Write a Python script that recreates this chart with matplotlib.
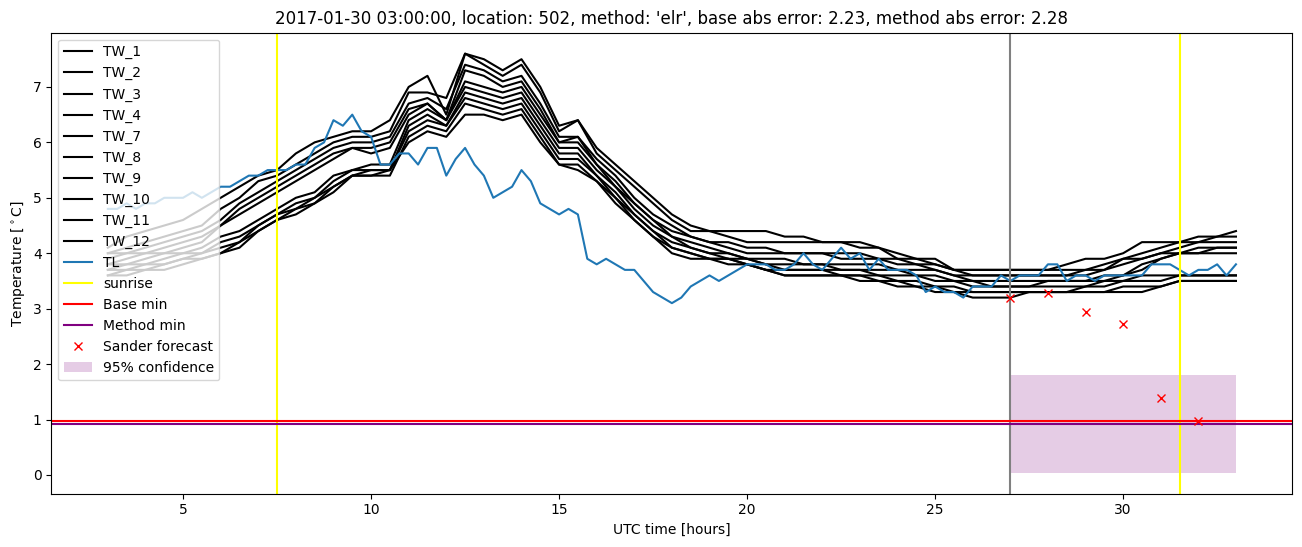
import numpy as np
import matplotlib

matplotlib.use("Agg")
import matplotlib.pyplot as plt

# half-hourly grid for the TW stations, quarter-hourly for TL
tw_hours = np.arange(3.0, 33.001, 0.5)
tl_hours = np.arange(3.0, 33.001, 0.25)

tw_labels = ["TW_1", "TW_2", "TW_3", "TW_4", "TW_7", "TW_8", "TW_9", "TW_10", "TW_11", "TW_12"]

tw_1 = [4.1, 4.3, 4.4, 4.5, 4.6, 4.8, 5.0, 5.2, 5.4, 5.5, 5.8, 6.0, 6.1, 6.2, 6.2, 6.4, 7.0, 7.2, 6.5, 7.6,
        7.5, 7.3, 7.5, 7.0, 6.3, 6.4, 5.9, 5.6, 5.3, 5.0, 4.7, 4.5, 4.4, 4.4, 4.4, 4.4, 4.3, 4.3, 4.2, 4.2,
        4.2, 4.1, 4.0, 3.9, 3.9, 3.7, 3.7, 3.7, 3.7, 3.7, 3.7, 3.8, 3.9, 3.9, 4.0, 4.2, 4.2, 4.2, 4.3, 4.3, 4.4]
tw_2 = [4.0, 4.1, 4.2, 4.3, 4.4, 4.5, 4.8, 5.0, 5.3, 5.4, 5.6, 5.8, 6.0, 6.1, 6.1, 6.2, 6.9, 6.9, 6.8, 7.6,
        7.4, 7.2, 7.4, 6.9, 6.2, 6.4, 5.8, 5.5, 5.2, 4.9, 4.6, 4.4, 4.4, 4.3, 4.2, 4.2, 4.2, 4.2, 4.2, 4.2,
        4.1, 4.1, 3.9, 3.9, 3.8, 3.7, 3.7, 3.7, 3.7, 3.7, 3.7, 3.7, 3.7, 3.8, 3.9, 4.0, 4.1, 4.2, 4.2, 4.3, 4.3]
tw_3 = [4.0, 4.0, 4.1, 4.2, 4.3, 4.4, 4.6, 4.9, 5.1, 5.3, 5.5, 5.7, 5.9, 6.0, 6.0, 6.1, 6.7, 6.8, 6.6, 7.4,
        7.3, 7.1, 7.2, 6.7, 6.1, 6.1, 5.7, 5.4, 5.0, 4.7, 4.5, 4.3, 4.2, 4.2, 4.1, 4.1, 4.0, 4.0, 4.0, 4.0,
        4.0, 3.9, 3.9, 3.8, 3.8, 3.7, 3.6, 3.6, 3.6, 3.6, 3.6, 3.6, 3.7, 3.7, 3.9, 3.9, 4.0, 4.1, 4.2, 4.2, 4.2]
tw_4 = [3.9, 4.0, 4.0, 4.1, 4.2, 4.3, 4.5, 4.8, 5.0, 5.2, 5.4, 5.6, 5.8, 5.9, 5.9, 6.0, 6.6, 6.7, 6.4, 7.3,
        7.2, 7.0, 7.1, 6.6, 6.0, 6.0, 5.6, 5.3, 4.9, 4.6, 4.4, 4.3, 4.2, 4.1, 4.0, 4.0, 4.0, 4.0, 4.0, 3.9,
        3.9, 3.9, 3.8, 3.8, 3.7, 3.6, 3.6, 3.6, 3.6, 3.6, 3.6, 3.6, 3.6, 3.7, 3.8, 3.9, 4.0, 4.0, 4.1, 4.1, 4.1]
tw_7 = [3.8, 3.9, 4.0, 4.0, 4.1, 4.2, 4.5, 4.7, 4.9, 5.1, 5.3, 5.5, 5.7, 5.9, 5.8, 5.9, 6.5, 6.7, 6.4, 7.1,
        7.0, 6.9, 7.0, 6.5, 6.0, 6.1, 5.6, 5.2, 4.9, 4.6, 4.3, 4.2, 4.1, 4.0, 3.9, 3.9, 3.9, 3.8, 3.8, 3.8,
        3.8, 3.8, 3.7, 3.7, 3.7, 3.6, 3.5, 3.5, 3.5, 3.5, 3.5, 3.5, 3.5, 3.6, 3.6, 3.8, 3.9, 4.0, 4.0, 4.1, 4.1]
tw_8 = [3.8, 3.8, 3.9, 4.0, 4.0, 4.1, 4.3, 4.4, 4.6, 4.8, 5.0, 5.1, 5.4, 5.5, 5.6, 5.6, 6.4, 6.6, 6.4, 7.0,
        6.9, 6.8, 6.9, 6.4, 5.9, 5.9, 5.5, 5.2, 4.8, 4.5, 4.3, 4.1, 4.0, 4.0, 3.9, 3.8, 3.8, 3.8, 3.8, 3.7,
        3.7, 3.7, 3.7, 3.6, 3.6, 3.5, 3.5, 3.4, 3.4, 3.4, 3.5, 3.5, 3.5, 3.5, 3.6, 3.7, 3.9, 4.0, 4.0, 4.0, 4.0]
tw_9 = [3.7, 3.8, 3.8, 3.9, 4.0, 4.0, 4.2, 4.3, 4.5, 4.7, 4.9, 5.0, 5.3, 5.5, 5.5, 5.5, 6.3, 6.5, 6.3, 6.9,
        6.8, 6.7, 6.8, 6.3, 5.8, 5.8, 5.4, 5.1, 4.7, 4.4, 4.2, 4.1, 4.0, 3.9, 3.9, 3.8, 3.7, 3.7, 3.7, 3.7,
        3.7, 3.6, 3.6, 3.6, 3.5, 3.5, 3.4, 3.4, 3.4, 3.4, 3.4, 3.4, 3.4, 3.5, 3.5, 3.6, 3.6, 3.6, 3.6, 3.6, 3.6]
tw_10 = [3.7, 3.7, 3.8, 3.8, 3.9, 4.0, 4.1, 4.2, 4.5, 4.7, 4.8, 5.0, 5.2, 5.4, 5.5, 5.5, 6.2, 6.4, 6.3, 6.8,
         6.7, 6.6, 6.7, 6.2, 5.7, 5.7, 5.4, 5.0, 4.7, 4.4, 4.1, 4.0, 3.9, 3.9, 3.8, 3.7, 3.7, 3.7, 3.7, 3.6,
         3.6, 3.6, 3.5, 3.5, 3.4, 3.4, 3.3, 3.3, 3.3, 3.3, 3.3, 3.3, 3.4, 3.4, 3.5, 3.5, 3.5, 3.6, 3.6, 3.6, 3.6]
tw_11 = [3.6, 3.7, 3.7, 3.8, 3.9, 3.9, 4.0, 4.2, 4.4, 4.6, 4.8, 4.9, 5.2, 5.4, 5.4, 5.4, 6.1, 6.3, 6.2, 6.7,
         6.6, 6.5, 6.6, 6.1, 5.6, 5.6, 5.3, 5.0, 4.6, 4.3, 4.1, 4.0, 3.9, 3.9, 3.8, 3.7, 3.6, 3.6, 3.6, 3.6,
         3.6, 3.5, 3.5, 3.4, 3.4, 3.3, 3.3, 3.3, 3.3, 3.3, 3.3, 3.3, 3.3, 3.3, 3.4, 3.4, 3.4, 3.5, 3.5, 3.5, 3.5]
tw_12 = [3.6, 3.6, 3.7, 3.7, 3.8, 3.9, 4.0, 4.1, 4.4, 4.6, 4.7, 4.9, 5.1, 5.4, 5.4, 5.5, 6.0, 6.2, 6.1, 6.5,
         6.5, 6.4, 6.5, 6.0, 5.6, 5.5, 5.3, 4.9, 4.6, 4.3, 4.0, 3.9, 3.9, 3.8, 3.8, 3.7, 3.6, 3.6, 3.6, 3.6,
         3.5, 3.5, 3.4, 3.4, 3.3, 3.3, 3.2, 3.2, 3.2, 3.3, 3.3, 3.3, 3.3, 3.3, 3.3, 3.3, 3.4, 3.5, 3.5, 3.5, 3.5]

tl = [4.8, 4.8, 4.9, 4.8, 4.9, 4.9, 5.0, 5.0, 5.0, 5.1, 5.0, 5.1, 5.2, 5.2, 5.3, 5.4, 5.4, 5.5, 5.5, 5.5,
      5.6, 5.6, 5.9, 6.0, 6.4, 6.3, 6.5, 6.2, 6.1, 5.6, 5.6, 5.8, 5.8, 5.6, 5.9, 5.9, 5.4, 5.7, 5.9, 5.6,
      5.4, 5.0, 5.1, 5.2, 5.5, 5.3, 4.9, 4.8, 4.7, 4.8, 4.7, 3.9, 3.8, 3.9, 3.8, 3.7, 3.7, 3.5, 3.3, 3.2,
      3.1, 3.2, 3.4, 3.5, 3.6, 3.5, 3.6, 3.7, 3.8, 3.8, 3.8, 3.7, 3.7, 3.8, 4.0, 3.8, 3.7, 3.9, 4.1, 3.9,
      4.0, 3.7, 3.9, 3.7, 3.7, 3.7, 3.6, 3.3, 3.4, 3.3, 3.3, 3.2, 3.4, 3.4, 3.4, 3.6, 3.5, 3.6, 3.6, 3.6,
      3.8, 3.8, 3.5, 3.6, 3.6, 3.5, 3.6, 3.6, 3.6, 3.6, 3.6, 3.8, 3.8, 3.8, 3.7, 3.6, 3.7, 3.7, 3.8, 3.6,
      3.8]

sunrise_hours = [7.5, 31.5]
forecast_start = 27.0
base_min = 0.98
method_min = 0.925

sander_hours = [27, 28, 29, 30, 31, 32]
sander_temp = [3.2, 3.28, 2.94, 2.72, 1.39, 0.97]

conf_hours = [27.0, 33.0]
conf_low = [0.04, 0.04]
conf_high = [1.8, 1.8]

title = ("2017-01-30 03:00:00, location: 502, method: 'elr', "
         "base abs error: 2.23, method abs error: 2.28")

fig = plt.figure(figsize=(13.02, 5.47), dpi=100)
ax = fig.add_axes([0.0395, 0.0974, 0.9531, 0.8428])

for lab, vals in zip(tw_labels, [tw_1, tw_2, tw_3, tw_4, tw_7, tw_8, tw_9, tw_10, tw_11, tw_12]):
    ax.plot(tw_hours, vals, color="black", label=lab)
ax.plot(tl_hours, tl, color="tab:blue", label="TL")

for i, h in enumerate(sunrise_hours):
    ax.axvline(h, color="yellow", label="sunrise" if i == 0 else None)
ax.axvline(forecast_start, color="gray")
ax.axhline(base_min, color="red", label="Base min")
ax.axhline(method_min, color="purple", label="Method min")
ax.plot(sander_hours, sander_temp, "x", color="red", label="Sander forecast")
ax.fill_between(conf_hours, conf_low, conf_high, color="purple", alpha=0.2, linewidth=0,
                label="95% confidence")

ax.set_title(title)
ax.set_xlabel("UTC time [hours]")
ax.set_ylabel(r"Temperature [$^\circ$C]")
ax.legend(loc="upper left")

fig.savefig("out.png", dpi=100)
